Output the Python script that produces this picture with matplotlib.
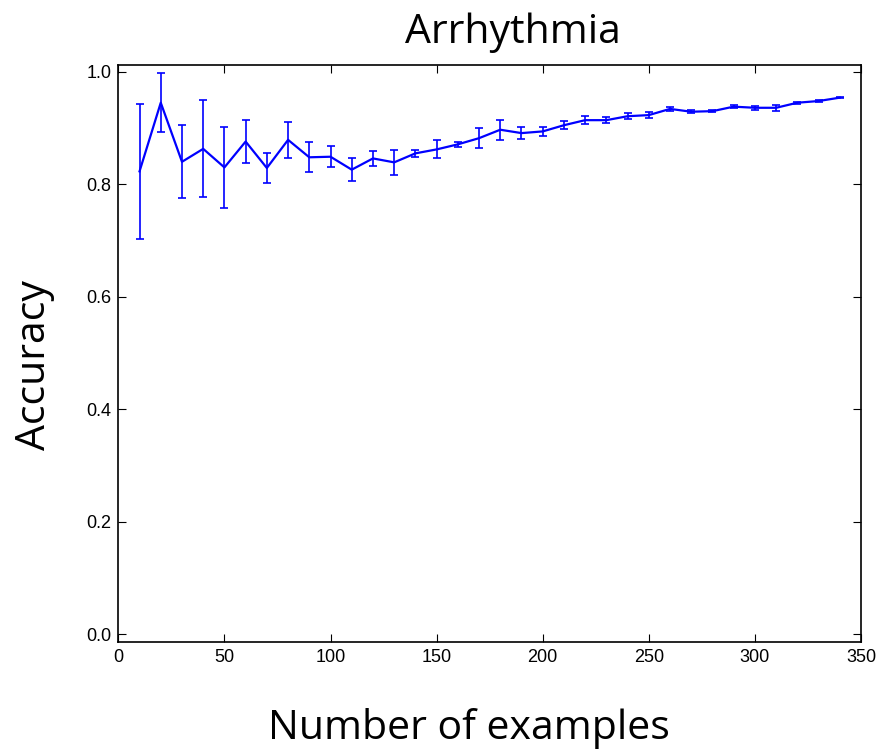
import matplotlib
matplotlib.use('Agg')
import matplotlib.pyplot as plt

# learning curve on the arrhythmia data
n_examples = [10, 20, 30, 40, 50, 60, 70, 80, 90, 100, 110, 120, 130, 140,
              150, 160, 170, 180, 190, 200, 210, 220, 230, 240, 250, 260,
              270, 280, 290, 300, 310, 320, 330, 340]
accuracy = [0.823, 0.945, 0.840, 0.863, 0.830, 0.876, 0.829, 0.879, 0.848,
            0.849, 0.826, 0.846, 0.839, 0.855, 0.862, 0.871, 0.882, 0.897,
            0.891, 0.894, 0.905, 0.914, 0.914, 0.921, 0.923, 0.934, 0.929,
            0.930, 0.938, 0.936, 0.936, 0.945, 0.948, 0.954]
acc_err = [0.120, 0.052, 0.065, 0.086, 0.072, 0.038, 0.027, 0.032, 0.027,
           0.019, 0.020, 0.014, 0.022, 0.006, 0.016, 0.005, 0.018, 0.018,
           0.011, 0.008, 0.007, 0.007, 0.005, 0.005, 0.006, 0.003, 0.003,
           0.002, 0.003, 0.004, 0.005, 0.002, 0.002, 0.001]

x_ticks = [0, 50, 100, 150, 200, 250, 300, 350]
y_ticks = [0.0, 0.2, 0.4, 0.6, 0.8, 1.0]

label_font = 'Open Sans'
tick_font = 'Liberation Sans'

fig = plt.figure(figsize=(8.81, 7.5), dpi=100)
ax = fig.add_axes([0.1343, 0.1444, 0.8430, 0.7689])

ax.errorbar(n_examples, accuracy, yerr=acc_err, color='#0000ff',
            linewidth=1.6, elinewidth=1.2, capsize=3.2, capthick=1.2)

ax.set_xlim(0, 350)
ax.set_ylim(-0.013, 1.012)
ax.set_xticks(x_ticks)
ax.set_yticks(y_ticks)
ax.set_xticklabels([str(t) for t in x_ticks], fontfamily=tick_font, fontsize=13)
ax.set_yticklabels([f'{t:.1f}' for t in y_ticks], fontfamily=tick_font, fontsize=13)
ax.tick_params(direction='in', length=6, width=0.8, top=True, right=True,
               colors='black', pad=5)
for s in ax.spines.values():
    s.set_linewidth(1.2)

fig.text(0.582, 0.9427, 'Arrhythmia', fontfamily=label_font, fontsize=29.5,
         ha='center', va='baseline')
fig.text(0.5318, 0.0147, 'Number of examples', fontfamily=label_font,
         fontsize=29.5, ha='center', va='baseline')
fig.text(0.0397, 0.5133, 'Accuracy', fontfamily=label_font, fontsize=29.5,
         rotation=90, ha='center', va='center')

fig.savefig('out.png', dpi=100)
